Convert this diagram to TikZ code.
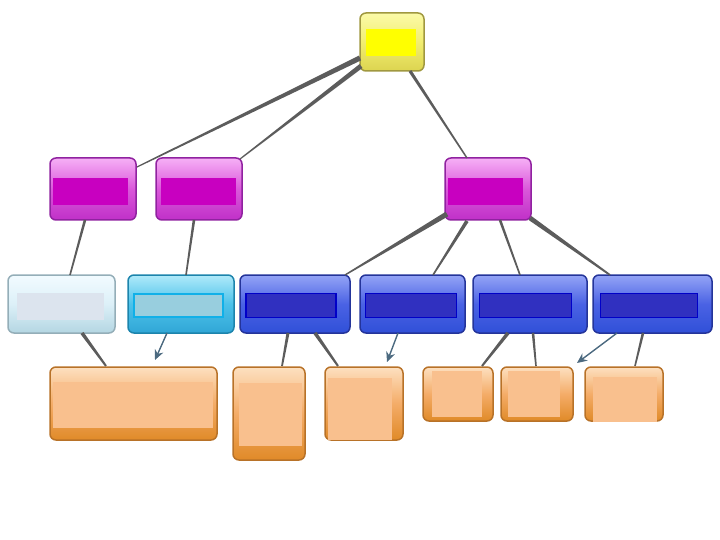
\documentclass[tikz,border=0pt]{standalone}
\usetikzlibrary{calc,arrows.meta}
\definecolor{conncol}{HTML}{5C5C5C}
\definecolor{arrcol}{HTML}{4C6A80}
\tikzset{
  box/.style={inner sep=0pt, outer sep=0pt, rounded corners=6pt, line width=1.5pt},
  inbox/.style={inner sep=0pt, outer sep=0pt, draw=none},
  ybox/.style={box, draw=yborder, top color=ytop, bottom color=ybot, middle color=ymid},
  yin/.style={inbox, fill=yinner},
  mbox/.style={box, draw=mborder, top color=mtop, bottom color=mbot, middle color=mmid},
  min/.style={inbox, fill=minner},
  lbox/.style={box, draw=lborder, top color=ltop, bottom color=lbot, middle color=lmid},
  lin/.style={inbox, fill=linner},
  cbox/.style={box, draw=cborder, top color=ctop, bottom color=cbot, middle color=cmid},
  cin/.style={inbox, fill=cinner, draw=cinline, line width=2pt},
  bbox/.style={box, draw=bborder, top color=btop, bottom color=bbot, middle color=bmid},
  bin/.style={inbox, fill=binner, draw=binline, line width=1.6pt},
  obox/.style={box, draw=oborder, top color=otop, bottom color=obot, middle color=omid},
  oin/.style={inbox, fill=oinner},
  conn/.style={fill=conncol, draw=none},
  arr/.style={draw=arrcol, line width=1.4pt, -{Stealth[length=10pt,width=9pt]}}
}
\definecolor{yborder}{HTML}{A09840}\definecolor{ytop}{HTML}{FBFAA8}\definecolor{ymid}{HTML}{F2EE70}\definecolor{ybot}{HTML}{DCD450}\definecolor{yinner}{HTML}{FFFF00}
\definecolor{mborder}{HTML}{9022A0}\definecolor{mtop}{HTML}{F6B0F6}\definecolor{mmid}{HTML}{DA58DA}\definecolor{mbot}{HTML}{C030C8}\definecolor{minner}{HTML}{C800C0}
\definecolor{lborder}{HTML}{94AEB8}\definecolor{ltop}{HTML}{F2FBFF}\definecolor{lmid}{HTML}{DCF0F8}\definecolor{lbot}{HTML}{B4D6E2}\definecolor{linner}{HTML}{DCE4EE}
\definecolor{cborder}{HTML}{1C84AC}\definecolor{ctop}{HTML}{B0EAFA}\definecolor{cmid}{HTML}{4CC2EA}\definecolor{cbot}{HTML}{30A6D6}\definecolor{cinner}{HTML}{98CEDE}\definecolor{cinline}{HTML}{10B0E8}
\definecolor{bborder}{HTML}{24349A}\definecolor{btop}{HTML}{94A4F6}\definecolor{bmid}{HTML}{4A62E4}\definecolor{bbot}{HTML}{3050D8}\definecolor{binner}{HTML}{3030C0}\definecolor{binline}{HTML}{0000C8}
\definecolor{oborder}{HTML}{B87228}\definecolor{otop}{HTML}{FDE0C0}\definecolor{omid}{HTML}{F4AC68}\definecolor{obot}{HTML}{E08A28}\definecolor{oinner}{HTML}{F9C08E}
\newcommand\taper[4]{\fill[conn] ($(#1)!#3!90:(#2)$) -- ($(#1)!#3!-90:(#2)$) -- ($(#2)!#4!90:(#1)$) -- ($(#2)!#4!-90:(#1)$) -- cycle;}
\begin{document}
\begin{tikzpicture}[x=1pt,y=-1pt]
\useasboundingbox (0,0) rectangle (720,540);
% top
\node[ybox, minimum width=64, minimum height=58] (Y) at (392,42) {};
\node[yin, minimum width=50, minimum height=27] (Yi) at (391,42.5) {};
% second level
\node[mbox, minimum width=86, minimum height=62] (M1) at (93,189) {};
\node[min, minimum width=75, minimum height=27] (M1i) at (90.5,192) {};
\node[mbox, minimum width=86, minimum height=62] (M2) at (199,189) {};
\node[min, minimum width=75, minimum height=27] (M2i) at (198.5,192) {};
\node[mbox, minimum width=86, minimum height=62] (M3) at (488,189) {};
\node[min, minimum width=75, minimum height=27] (M3i) at (485.5,192) {};
% third level
\node[lbox, minimum width=107, minimum height=58] (L1) at (61.5,304) {};
\node[lin, minimum width=87, minimum height=27] (L1i) at (60.5,306.5) {};
\node[cbox, minimum width=106, minimum height=58] (L2) at (181,304) {};
\node[cin, minimum width=89, minimum height=23] (L2i) at (178,305.5) {};
\node[bbox, minimum width=110, minimum height=58] (B1) at (295,304) {};
\node[bin, minimum width=90, minimum height=24] (B1i) at (291,305.5) {};
\node[bbox, minimum width=105, minimum height=58] (B2) at (412.5,304) {};
\node[bin, minimum width=91, minimum height=24] (B2i) at (411,305.5) {};
\node[bbox, minimum width=114, minimum height=58] (B3) at (530,304) {};
\node[bin, minimum width=92, minimum height=24] (B3i) at (525.5,305.5) {};
\node[bbox, minimum width=119, minimum height=58] (B4) at (652.5,304) {};
\node[bin, minimum width=97, minimum height=24] (B4i) at (649,305.5) {};
% fourth level
\node[obox, minimum width=167, minimum height=73] (O1) at (133.5,403.5) {};
\node[oin, minimum width=160, minimum height=46] (O1i) at (133,405) {};
\node[obox, minimum width=72, minimum height=93] (O2) at (269,413.5) {};
\node[oin, minimum width=63, minimum height=63] (O2i) at (270.5,414) {};
\node[obox, minimum width=78, minimum height=73] (O3) at (364,403.5) {};
\node[oin, minimum width=64, minimum height=62] (O3i) at (360,408.5) {};
\node[obox, minimum width=70, minimum height=54] (O4) at (458,394) {};
\node[oin, minimum width=50, minimum height=46] (O4i) at (457,394) {};
\node[obox, minimum width=72, minimum height=54] (O5) at (537,394) {};
\node[oin, minimum width=52, minimum height=46] (O5i) at (534,394) {};
\node[obox, minimum width=78, minimum height=54] (O6) at (624,394) {};
\node[oin, minimum width=64, minimum height=45] (O6i) at (625,399.5) {};
% connector end points
\coordinate (yA) at ($(Y.west)+(0,16)$);
\coordinate (m1A) at ($(M1.north east)+(1,9)$);
\coordinate (yB) at ($(Y.south west)+(1,-5)$);
\coordinate (m2A) at ($(M2.north east)+(-2,1)$);
\coordinate (yC) at ($(Y.south)+(18,0)$);
\coordinate (m3A) at ($(M3.north)+(-21,0)$);
\coordinate (m1B) at ($(M1.south)+(-8,0)$);
\coordinate (l1A) at ($(L1.north)+(8.5,0)$);
\coordinate (m2B) at ($(M2.south)+(-5,0)$);
\coordinate (l2A) at ($(L2.north)+(5,0)$);
\coordinate (m3B) at ($(M3.south west)+(2,-6)$);
\coordinate (b1A) at ($(B1.north east)+(-5,0)$);
\coordinate (m3C) at ($(M3.south)+(-21,1)$);
\coordinate (b2A) at ($(B2.north)+(20.5,0)$);
\coordinate (m3D) at ($(M3.south)+(12,0)$);
\coordinate (b3A) at ($(B3.north)+(-10,0)$);
\coordinate (m3E) at ($(M3.south east)+(-1,-2)$);
\coordinate (b4A) at ($(B4.north)+(-42.5,0)$);
\coordinate (l1B) at ($(L1.south)+(20.5,0)$);
\coordinate (o1A) at ($(O1.north)+(-27.5,-1)$);
\coordinate (l2B) at ($(L2.south)+(-14,0)$);
\coordinate (o1T) at ($(O1.north)+(21.5,-7)$);
\coordinate (b1B) at ($(B1.south)+(-7,0)$);
\coordinate (o2A) at ($(O2.north)+(13,-1)$);
\coordinate (b1C) at ($(B1.south)+(20,0)$);
\coordinate (o3A) at ($(O3.north)+(-26,-1)$);
\coordinate (b2B) at ($(B2.south)+(-14.5,0)$);
\coordinate (o3T) at ($(O3.north)+(23,-5)$);
\coordinate (b3B) at ($(B3.south)+(-22,0)$);
\coordinate (o4A) at ($(O4.north)+(24,-1)$);
\coordinate (b3C) at ($(B3.south)+(3,0)$);
\coordinate (o5A) at ($(O5.north)+(-1,-1)$);
\coordinate (b4B) at ($(B4.south)+(-35.5,0)$);
\coordinate (o5T) at ($(O5.north east)+(4,-4)$);
\coordinate (b4C) at ($(B4.south)+(-9.5,0)$);
\coordinate (o6A) at ($(O6.north)+(11,-1)$);
% connectors
\taper{yA}{m1A}{2.6pt}{0.6pt}
\taper{yB}{m2A}{2.4pt}{0.6pt}
\taper{yC}{m3A}{1.6pt}{0.7pt}
\taper{m1B}{l1A}{1.3pt}{0.8pt}
\taper{m2B}{l2A}{1.3pt}{0.8pt}
\taper{m3B}{b1A}{2.6pt}{0.7pt}
\taper{m3C}{b2A}{1.8pt}{0.8pt}
\taper{m3D}{b3A}{1.3pt}{0.8pt}
\taper{m3E}{b4A}{2.4pt}{0.9pt}
\taper{l1B}{o1A}{1.8pt}{1pt}
\taper{b1B}{o2A}{1.5pt}{0.9pt}
\taper{b1C}{o3A}{1.8pt}{1pt}
\taper{b3B}{o4A}{1.8pt}{1pt}
\taper{b3C}{o5A}{1.3pt}{0.8pt}
\taper{b4C}{o6A}{1.3pt}{0.8pt}
\draw[arr] (l2B) -- (o1T);
\draw[arr] (b2B) -- (o3T);
\draw[arr] (b4B) -- (o5T);
\end{tikzpicture}
\end{document}
